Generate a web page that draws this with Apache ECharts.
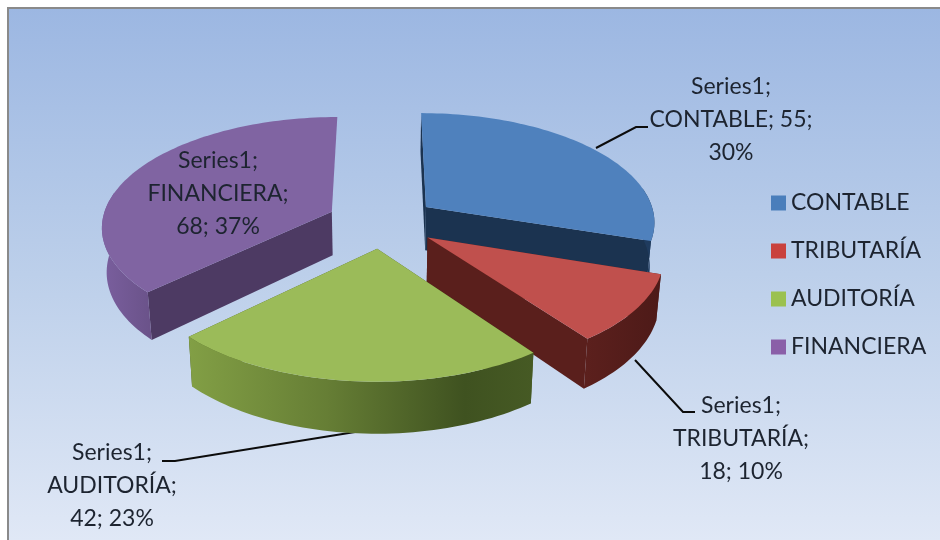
<!DOCTYPE html>
<html>
<head>
<meta charset="utf-8">
<style>html,body{margin:0;padding:0;background:#fff}#c{width:940px;height:540px}</style>
<script src="https://cdn.jsdelivr.net/npm/echarts@6/dist/echarts.min.js"></script>
</head>
<body>
<div id="c"></div>
<script>
const categories = ['CONTABLE', 'TRIBUTARÍA', 'AUDITORÍA', 'FINANCIERA'];
const values = [55, 18, 42, 68];
const seriesName = 'Series1';
const percents = ['30%', '10%', '23%', '37%'];
const topColors = ['#4f81bd', '#c0504d', '#9bbb59', '#8064a2'];
const sideColors = ['#1b3350', '#5a1f1c', '#46591f', '#4d3a63'];
const legendColors = ['#4a7ebb', '#c9413d', '#9bc14f', '#8a5fa8'];
const drawOrder = [3, 0, 1, 2];
const showEndWall = [true, true, true, false];

const total = values.reduce((a, b) => a + b, 0);
const cx = 382, cy = 222, RX = 230, RY = 109, K = 0.1245, EXPLODE = 0.24, WALL = 44, BOTTOM_X = 0.983;
const starts = [];
values.reduce((acc, v, i) => { starts[i] = acc; return acc + v; }, 0);

function ground(i, deg) {
  const a0 = starts[i] / total * 360, a1 = (starts[i] + values[i]) / total * 360;
  const m = (a0 + a1) / 2 * Math.PI / 180;
  return deg === null
    ? [EXPLODE * Math.sin(m), -EXPLODE * Math.cos(m)]
    : [EXPLODE * Math.sin(m) + Math.sin(deg * Math.PI / 180), -EXPLODE * Math.cos(m) - Math.cos(deg * Math.PI / 180)];
}
function projTop(p) {
  const d = 1 - K * p[1];
  return [cx + RX * p[0] / d, cy + RY * p[1] / d];
}
function projBottom(p) {
  const d = 1 - K * p[1], t = projTop(p);
  return [cx + (t[0] - cx) * BOTTOM_X, t[1] + WALL / d];
}
function arcDegrees(i) {
  const a0 = starts[i] / total * 360, a1 = (starts[i] + values[i]) / total * 360, out = [];
  for (let a = a0; a < a1; a += 1.5) out.push(a);
  out.push(a1);
  return out;
}
const hGrad = stops => ({ type: 'linear', x: 0, y: 0, x2: 1, y2: 0, colorStops: stops });
const arcWallFill = [
  '#1f3b5e',
  hGrad([{ offset: 0, color: '#5c201d' }, { offset: 1, color: '#4d1a18' }]),
  hGrad([{ offset: 0, color: '#829f45' }, { offset: 0.4, color: '#667e35' }, { offset: 0.8, color: '#3f5220' }, { offset: 1, color: '#465a24' }]),
  hGrad([{ offset: 0, color: '#7a5f9e' }, { offset: 1, color: '#6a5289' }])
];
const labelLines = [
  [seriesName + ';', categories[0] + '; ' + values[0] + ';', percents[0]],
  [seriesName + ';', categories[1] + ';', values[1] + '; ' + percents[1]],
  [seriesName + ';', categories[2] + ';', values[2] + '; ' + percents[2]],
  [seriesName + ';', categories[3] + ';', values[3] + '; ' + percents[3]]
];
const labelPos = [[731, 120], [741, 439], [112, 486], [218, 194]];
const leaders = [
  [[596, 148], [636, 127], [648, 127]],
  [[635, 360], [683, 412], [695, 412]],
  [[355, 432], [175, 461], [162, 461]],
  null
];

function renderSlice(i) {
  const degs = arcDegrees(i), arc = degs.map(d => ground(i, d)), apex = ground(i, null), kids = [];
  const frontArc = degs.filter(d => Math.cos(d * Math.PI / 180) < 0.2).map(d => ground(i, d));
  const wall = (a, b, fill) => ({
    type: 'polygon', silent: true,
    shape: { points: a.map(projTop).concat(b.map(projBottom)) },
    style: { fill: fill }
  });
  const first = arc[0], last = arc[arc.length - 1];
  if (leaders[i]) kids.push({ type: 'polyline', silent: true, shape: { points: leaders[i] }, style: { stroke: '#0c0c0c', lineWidth: 2, fill: null } });
  kids.push(wall([apex, first], [first, apex], sideColors[i]));
  if (showEndWall[i]) kids.push(wall([apex, last], [last, apex], sideColors[i]));
  kids.push(wall(frontArc, frontArc.slice().reverse(), arcWallFill[i]));
  kids.push({ type: 'polygon', silent: true, shape: { points: [apex].concat(arc).map(projTop) }, style: { fill: topColors[i] } });
  kids.push({
    type: 'text', silent: true, x: labelPos[i][0], y: labelPos[i][1],
    style: { text: labelLines[i].join('\n'), fontFamily: 'Lato', fontSize: 23, lineHeight: 33, fill: '#1d2430', align: 'center', verticalAlign: 'middle' }
  });
  return { type: 'group', children: kids };
}

const chart = echarts.init(document.getElementById('c'), null, { renderer: 'canvas' });
chart.setOption({
  animation: false,
  backgroundColor: '#ffffff',
  graphic: [
    { type: 'rect', z: -10, shape: { x: 8, y: 8, width: 932, height: 532 }, style: { fill: { type: 'linear', x: 0, y: 0, x2: 0, y2: 1, colorStops: [{ offset: 0, color: '#9cb7e2' }, { offset: 0.5, color: '#bccfea' }, { offset: 1, color: '#e0e8f6' }] } } },
    { type: 'polyline', z: -9, shape: { points: [[8, 540], [8, 8], [940, 8]] }, style: { stroke: '#8a8a8a', lineWidth: 2, fill: null } }
  ],
  legend: {
    orient: 'vertical', left: 771, top: 190, padding: 0, icon: 'rect', itemWidth: 15, itemHeight: 15, itemGap: 22, itemStyle: { borderWidth: 0 },
    selectedMode: false,
    data: categories,
    textStyle: { fontFamily: 'Lato', fontSize: 23, lineHeight: 26, color: '#1d2430' }
  },
  series: drawOrder.map(i => ({
    type: 'custom',
    name: categories[i],
    coordinateSystem: 'none',
    silent: true,
    itemStyle: { color: legendColors[i] },
    data: [[values[i]]],
    renderItem: () => renderSlice(i)
  }))
});
</script>
</body>
</html>
